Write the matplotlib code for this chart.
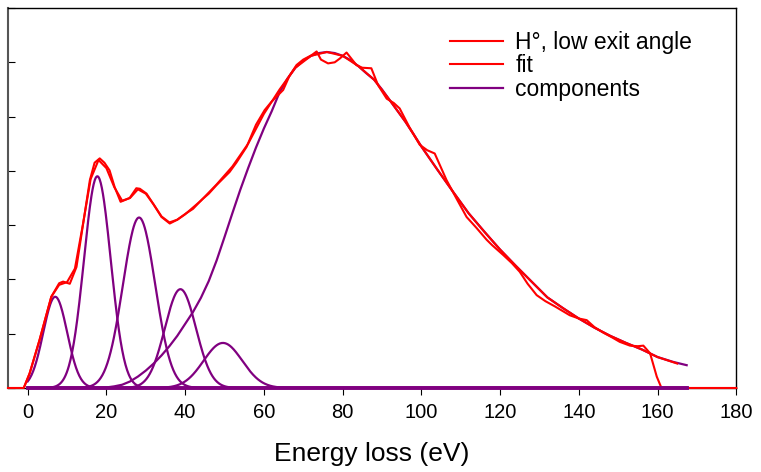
import numpy as np
import matplotlib
matplotlib.use("Agg")
import matplotlib.pyplot as plt

plt.rcParams['font.family'] = ['Liberation Sans', 'DejaVu Sans']

data_E = [-5, -1, 0.5, 3, 6, 8, 9, 10.7, 12.4, 14.1, 15.8, 17, 18.3, 19.5, 20.8,
          22.1, 23.6, 25.9, 27.6, 28.5, 30.2, 32, 34, 36.1, 38, 40.3, 42, 44.1,
          46, 48, 51.3, 53, 55.6, 58, 60.2, 61.9, 64.9, 66.5, 68.3, 70, 72.1,
          73.4, 74.5, 76.3, 78, 79.3, 81, 83.5, 85, 87.3, 89, 91.2, 93, 94.5,
          97, 99.6, 101.5, 103.4, 106.4, 109, 111.5, 114, 116.6, 118, 120.8,
          123, 125, 127, 129.3, 131.5, 134, 137.7, 140, 142, 144, 146.2, 148.5,
          150.4, 153, 155, 156.4, 158.1, 159.8, 161, 180]
data_I = [0, 0, 0.27, 0.88, 1.68, 1.93, 1.96, 1.92, 2.23, 3.03, 3.83, 4.15, 4.23,
          4.15, 4.01, 3.7, 3.43, 3.5, 3.68, 3.67, 3.58, 3.38, 3.15, 3.03, 3.1,
          3.22, 3.3, 3.46, 3.58, 3.74, 3.98, 4.15, 4.44, 4.85, 5.12, 5.27, 5.49,
          5.75, 5.95, 6.05, 6.13, 6.2, 6.05, 5.98, 6.0, 6.07, 6.18, 5.95, 5.9,
          5.89, 5.58, 5.33, 5.25, 5.15, 4.8, 4.48, 4.38, 4.32, 3.83, 3.48, 3.15,
          2.95, 2.73, 2.63, 2.45, 2.3, 2.14, 1.92, 1.71, 1.6, 1.5, 1.34, 1.28,
          1.25, 1.12, 1.02, 0.93, 0.85, 0.78, 0.77, 0.78, 0.64, 0.21, 0.0, 0]

# smooth fit curve
fit_E = [-1, 0.5, 3, 6, 8, 10, 12, 14, 16, 18, 20, 22, 24, 26, 28, 30, 32, 34,
         36, 38, 40, 44, 48, 52, 56, 60, 64, 68, 72, 76, 80, 84, 88, 92, 96,
         100, 104, 108, 112, 116, 120, 124, 128, 132, 136, 140, 144, 148, 152,
         156, 160, 165]
fit_I = [0, 0.27, 0.88, 1.68, 1.9, 1.95, 2.2, 3.0, 3.85, 4.2, 4.05, 3.7, 3.45,
         3.5, 3.66, 3.58, 3.38, 3.16, 3.05, 3.1, 3.2, 3.45, 3.75, 4.08, 4.5,
         5.05, 5.5, 5.9, 6.12, 6.19, 6.12, 5.93, 5.68, 5.3, 4.9, 4.45, 4.03,
         3.62, 3.22, 2.88, 2.55, 2.25, 1.96, 1.67, 1.47, 1.28, 1.11, 0.96,
         0.83, 0.71, 0.57, 0.45]

# gaussian components: centre, height, sigma
peak_centres = [7.0, 17.7, 28.3, 38.8, 49.6]
peak_heights = [1.68, 3.9, 3.14, 1.82, 0.83]
peak_sigmas = [3.05, 3.4, 4.1, 3.95, 4.9]

# broad asymmetric component
broad_E = [18, 20, 22, 24, 26, 28, 30, 32, 34, 36, 38, 40, 42, 44, 46, 48, 50,
           52, 54, 56, 58, 60, 62, 64, 66, 68, 70, 72, 74, 76, 78, 80, 82, 84,
           86, 88, 90, 92, 94, 96, 98, 100, 104, 108, 112, 116, 120, 124, 128,
           132, 136, 140, 144, 148, 152, 156, 160, 164, 167.4]
broad_I = [0, 0.01, 0.03, 0.06, 0.12, 0.21, 0.32, 0.45, 0.6, 0.77, 0.96, 1.18,
           1.4, 1.66, 1.97, 2.35, 2.78, 3.22, 3.65, 4.05, 4.43, 4.78, 5.1,
           5.45, 5.7, 5.9, 6.03, 6.12, 6.17, 6.19, 6.17, 6.12, 6.04,
           5.93, 5.8, 5.68, 5.5, 5.3, 5.1, 4.9, 4.68, 4.45, 4.03,
           3.62, 3.22, 2.88, 2.55, 2.25, 1.96, 1.67, 1.47, 1.28, 1.11,
           0.96, 0.83, 0.71, 0.57, 0.48, 0.42]


def gauss(x, c, h, s):
    return h * np.exp(-(x - c) ** 2 / (2 * s ** 2))


fine_E = np.linspace(0, 167.4, 1200)

fig = plt.figure(figsize=(7.61, 4.72), dpi=100)
ax = fig.add_axes([0.0105, 0.178, 0.957, 0.805])

red = '#ff0000'
purple = '#800080'

ax.plot(data_E, data_I, color=red, lw=1.5, label='H°, low exit angle',
        zorder=3, clip_on=False)
ax.plot(fit_E, fit_I, color=red, lw=1.5, label='fit', zorder=3)
for i, (c, h, s) in enumerate(zip(peak_centres, peak_heights, peak_sigmas)):
    ax.plot(fine_E, gauss(fine_E, c, h, s), color=purple, lw=1.6,
            label='components' if i == 0 else None, zorder=2)
ax.plot(broad_E, broad_I, color=purple, lw=1.6, zorder=2)
ax.plot([0, 167.4], [0, 0], color=purple, lw=2.8, zorder=4, clip_on=False)

ax.set_xlim(-5, 180)
ax.set_ylim(0, 7)
ax.set_xticks(np.arange(0, 181, 20))
ax.set_yticks(np.arange(0, 8, 1))
ax.set_yticklabels([])
ax.tick_params(axis='x', direction='out', length=5, labelsize=14.5, pad=6)
ax.tick_params(axis='y', direction='in', length=5)
ax.set_xlabel('Energy loss (eV)', fontsize=19, labelpad=14)
ax.spines['left'].set_color('#555555')
ax.spines['left'].set_linewidth(1.5)
for side in ['top', 'right', 'bottom']:
    ax.spines[side].set_linewidth(1.0)

ax.legend(loc='upper left', bbox_to_anchor=(0.607, 0.94), frameon=False,
          fontsize=16.5, handlelength=2.3, labelspacing=0.02, handletextpad=0.55,
          borderpad=0, borderaxespad=0)

plt.savefig('out.png', dpi=100)
